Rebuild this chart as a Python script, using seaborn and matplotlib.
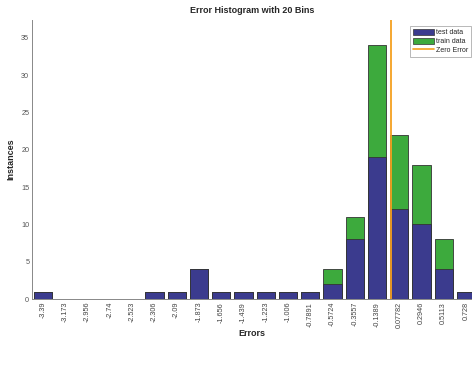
import numpy as np
import pandas as pd
import matplotlib
matplotlib.use("Agg")
import matplotlib.pyplot as plt
import seaborn as sns
from matplotlib.patches import Patch
from matplotlib.lines import Line2D

bin_labels = ["-3.39", "-3.173", "-2.956", "-2.74", "-2.523", "-2.306", "-2.09",
              "-1.873", "-1.656", "-1.439", "-1.223", "-1.006", "-0.7891", "-0.5724",
              "-0.3557", "-0.1389", "0.07782", "0.2946", "0.5113", "0.728"]
test_counts = [1, 0, 0, 0, 0, 1, 1, 4, 1, 1, 1, 1, 1, 2, 8, 19, 12, 10, 4, 1]
train_counts = [0, 0, 0, 0, 0, 0, 0, 0, 0, 0, 0, 0, 0, 2, 3, 15, 10, 8, 4, 0]
zero_error = 0.0

sns.set_style("white")
plt.rcParams['font.family'] = ['Liberation Sans', 'DejaVu Sans']

blue = "#3b3b8e"
green = "#3daa3d"
orange = "#f5a020"

df = pd.DataFrame({"bin": bin_labels,
                   "test": test_counts,
                   "train": train_counts})
df["total"] = df["test"] + df["train"]

fig = plt.figure(figsize=(4.72, 3.67), dpi=100)
ax = fig.add_axes([32/472, 1-299/367, 1-32/472, (299-20)/367])

sns.barplot(data=df, x="bin", y="total", order=bin_labels, color=green,
            saturation=1, width=0.82, edgecolor="#333333", linewidth=0.6, ax=ax)
sns.barplot(data=df, x="bin", y="test", order=bin_labels, color=blue,
            saturation=1, width=0.82, edgecolor="#333333", linewidth=0.6, ax=ax)

centers = np.array([float(s) for s in bin_labels])
zpos = np.interp(zero_error, centers, np.arange(len(centers)))
ax.axvline(zpos, color=orange, linewidth=1.3, zorder=5)

ax.set_xlim(-0.5, 19.27)
ax.set_ylim(0, 37.4)
ax.set_yticks([0, 5, 10, 15, 20, 25, 30, 35])
ax.tick_params(axis="both", direction="in", length=2.5, width=0.6,
               colors="#555555", labelsize=5.2, pad=2)
ax.tick_params(axis="x", labelrotation=90)
for lab in ax.get_xticklabels():
    lab.set_color("#444444")

for s in ["top", "right"]:
    ax.spines[s].set_visible(False)
for s in ["left", "bottom"]:
    ax.spines[s].set_color("#888888")
    ax.spines[s].set_linewidth(0.7)

ax.set_title("Error Histogram with 20 Bins", fontsize=6.5, fontweight="bold", pad=5)
ax.set_xlabel("Errors", fontsize=6.5, fontweight="bold", labelpad=1)
ax.set_ylabel("Instances", fontsize=6.5, fontweight="bold", labelpad=4)

handles = [Patch(facecolor=blue, edgecolor="#333333", linewidth=0.5),
           Patch(facecolor=green, edgecolor="#333333", linewidth=0.5),
           Line2D([0], [0], color=orange, linewidth=1.2)]
leg = fig.legend(handles, ["test data", "train data", "Zero Error"],
                 loc="upper right", bbox_to_anchor=(471/472, 1-26/367),
                 fontsize=5, frameon=True, fancybox=False, borderpad=0.4,
                 handlelength=3.0, handleheight=1.0, handletextpad=0.3,
                 labelspacing=0.2, borderaxespad=0)
leg.get_frame().set_edgecolor("#999999")
leg.get_frame().set_linewidth(0.6)

fig.savefig("out.png", dpi=100)
